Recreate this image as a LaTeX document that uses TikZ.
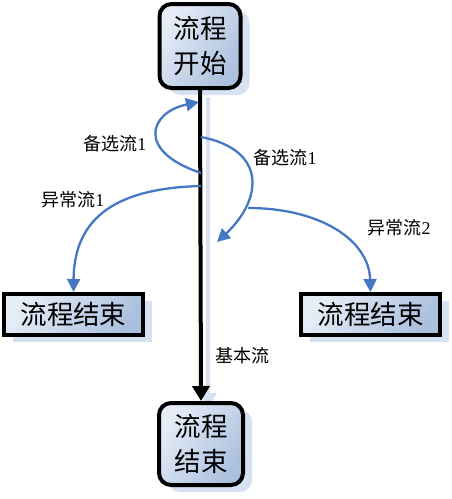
\documentclass[tikz,border=0pt]{standalone}
\usepackage{fontspec}
\setmainfont{Liberation Serif}
\newfontfamily\cjk{Noto Sans CJK SC}
\usetikzlibrary{arrows.meta,shadows}
\definecolor{flowblue}{HTML}{4677C2}
\definecolor{shadowblue}{HTML}{D6E1F1}
\definecolor{boxlight}{HTML}{E6EDF7}
\definecolor{boxdark}{HTML}{ABC0DE}
\tikzset{
  boxbase/.style={draw=black, line width=4pt, top color=boxlight, bottom color=boxdark, shading angle=55,
    drop shadow={shadow xshift=9pt, shadow yshift=-7pt, fill=shadowblue, opacity=1},
    font=\cjk\fontsize{26.5}{35}\selectfont, align=center, inner sep=0pt},
  roundbox/.style={boxbase, rounded corners=12pt, minimum width=81pt, minimum height=84pt},
  endbox/.style={boxbase, minimum width=139pt, minimum height=41pt},
  flow/.style={draw=flowblue, line width=2.3pt, -{Triangle[width=13pt,length=13pt]}},
  mainflow/.style={draw=black, line width=4pt, -{Triangle[width=17pt,length=15pt]}},
  mainshadow/.style={draw=shadowblue, line width=4pt, -{Triangle[width=17pt,length=15pt]}},
  lbl/.style={font=\fontsize{18}{20}\selectfont, inner sep=0pt}
}
\begin{document}
\begin{tikzpicture}[x=1pt,y=-1pt]
\useasboundingbox (0,0) rectangle (452,499);
% shadow of the main line
\coordinate (shs) at (208,97);
\coordinate (she) at (208,408);
\draw[mainshadow] (shs) -- (she);
% boxes
\node[roundbox] (start) at (200,46) {流程\\开始};
\node[roundbox, minimum width=84pt, minimum height=82pt] (finish) at (201,444) {流程\\结束};
\node[endbox] (endL) at (73.5,314.5) {流程结束};
\node[endbox] (endR) at (370.5,314.5) {流程结束};
% main flow
\draw[mainflow] (start.south) -- (finish.north);
% points on flows
\coordinate (a1s) at (201,173);
\coordinate (a1e) at (199,102);
\coordinate (a2s) at (201,137);
\coordinate (a2e) at (217,242);
\coordinate (e1s) at (201,186);
\coordinate (e2s) at (248,208);
% alternative flows
\draw[flow] (a1s) .. controls (135,151) and (150,112) .. (a1e);
\draw[flow] (a2s) .. controls (268,150) and (262,200) .. (a2e);
% exception flows
\draw[flow] (e1s) .. controls (120,188) and (74,215) .. (endL.north);
\draw[flow] (e2s) .. controls (320,208) and (369,240) .. (endR.north);
% labels
\node[lbl] (l1) at (115,144) {{\cjk 备选流}1};
\node[lbl] (l2) at (285,158) {{\cjk 备选流}1};
\node[lbl] (l3) at (73,200) {{\cjk 异常流}1};
\node[lbl] (l4) at (399,228) {{\cjk 异常流}2};
\node[lbl] (l5) at (242,356) {{\cjk 基本流}};
\end{tikzpicture}
\end{document}
